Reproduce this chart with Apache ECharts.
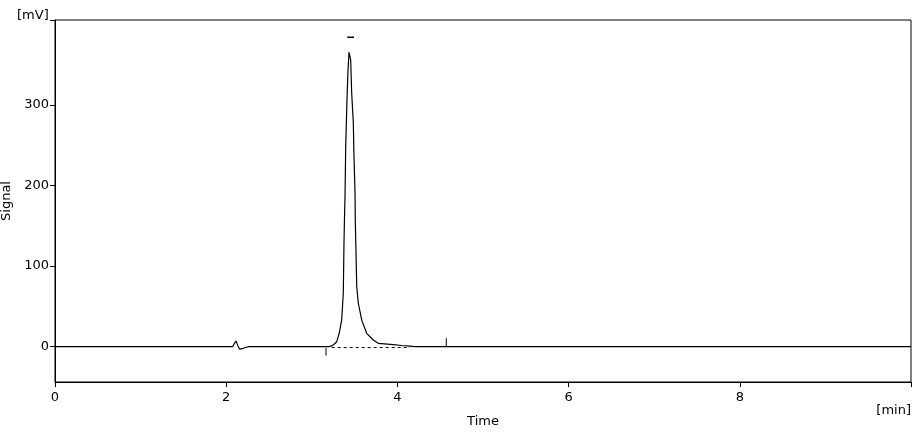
<!DOCTYPE html>
<html>
<head>
<meta charset="utf-8">
<script src="https://cdn.jsdelivr.net/npm/echarts@6/dist/echarts.min.js"></script>
<style>html,body{margin:0;padding:0;background:#fff}#c{width:920px;height:443px}</style>
</head>
<body>
<div id="c"></div>
<script>
// Chromatogram signal (time in min, signal in mV)
const times = [0, 2.04, 2.076, 2.095, 2.114, 2.138, 2.155, 2.169, 2.2, 2.22, 2.255,
  3.2, 3.232, 3.26, 3.291, 3.321, 3.349, 3.368, 3.376, 3.382, 3.388, 3.396, 3.411, 3.423, 3.435,
  3.454, 3.466, 3.485, 3.493, 3.505, 3.508, 3.514, 3.525, 3.543, 3.583, 3.641, 3.718, 3.777,
  3.85, 3.95, 4.05, 4.147, 4.2, 10];
const signal = [0, 0, 0, 4, 7, 1, -3, -5, -2, -0.5, 0,
  0, 1, 3, 6.2, 17, 33, 66.6, 128.7, 161, 186, 248, 306, 343, 365.6,
  355.7, 314.8, 277.7, 235.7, 190.7, 157, 128.7, 74.4, 54.2, 33, 16.6, 8.3, 4.2,
  3.5, 2.5, 1.5, 0.8, 0, 0];
// Integration marks
const baselineTimes = [3.232, 4.147];
const baselineValues = [-1, -1];
const startTickTimes = [3.166, 3.166];
const startTickValues = [-1.6, -11];
const endTickTimes = [4.571, 4.571];
const endTickValues = [0, 10.4];
const peakMarkTimes = [3.414, 3.493];
const peakMarkValues = [384, 384];
// Axes
const yTicks = [0, 100, 200, 300];
const yMin = -43.8, yMax = 405.3;
const xTicks = [0, 2, 4, 6, 8];
const xMin = 0, xMax = 10;

const zip = (a, b) => a.map((t, i) => [t, b[i]]);
const FONT = 'DejaVu Sans';
const chart = echarts.init(document.getElementById('c'));
chart.setOption({
  animation: false,
  backgroundColor: '#fff',
  grid: {left: 55, right: 9, top: 20, bottom: 61, containLabel: false, outerBoundsMode: 'none',
    show: true, borderColor: '#000', borderWidth: 1},
  xAxis: {
    type: 'value', min: xMin, max: xMax,
    name: 'Time', nameLocation: 'middle', nameGap: 33,
    nameTextStyle: {color: '#000', fontFamily: FONT, fontSize: 13},
    axisLine: {show: true, onZero: false, lineStyle: {color: '#000', width: 1}},
    axisTick: {show: true, length: 5, customValues: xTicks.concat([xMax]), lineStyle: {color: '#000'}},
    axisLabel: {customValues: xTicks, color: '#000', fontFamily: FONT, fontSize: 13, margin: 9},
    splitLine: {show: false}
  },
  yAxis: {
    type: 'value', min: yMin, max: yMax,
    name: 'Signal', nameLocation: 'middle', nameGap: 36, nameRotate: 90,
    nameTextStyle: {color: '#000', fontFamily: FONT, fontSize: 13},
    axisLine: {show: true, onZero: false, lineStyle: {color: '#000', width: 1}},
    axisTick: {show: true, length: 5, customValues: yTicks.concat([yMax]), lineStyle: {color: '#000'}},
    axisLabel: {customValues: yTicks, color: '#000', fontFamily: FONT, fontSize: 13, margin: 6},
    splitLine: {show: false}
  },
  graphic: [
    {type: 'text', left: 17, top: 9, style: {text: '[mV]', fill: '#000', font: '13px "DejaVu Sans"'}},
    {type: 'text', right: 9, top: 404, style: {text: '[min]', fill: '#000', font: '13px "DejaVu Sans"'}}
  ],
  series: [
    {type: 'line', data: zip(times, signal), symbol: 'none', lineStyle: {color: '#000', width: 1.2}, z: 5},
    {type: 'line', data: zip(baselineTimes, baselineValues), symbol: 'none', lineStyle: {color: '#000', width: 1, type: [3, 3]}},
    {type: 'line', data: zip(startTickTimes, startTickValues), symbol: 'none', lineStyle: {color: '#000', width: 1}},
    {type: 'line', data: zip(endTickTimes, endTickValues), symbol: 'none', lineStyle: {color: '#000', width: 1}},
    {type: 'line', data: zip(peakMarkTimes, peakMarkValues), symbol: 'none', lineStyle: {color: '#000', width: 1.5}}
  ]
});
</script>
</body>
</html>
